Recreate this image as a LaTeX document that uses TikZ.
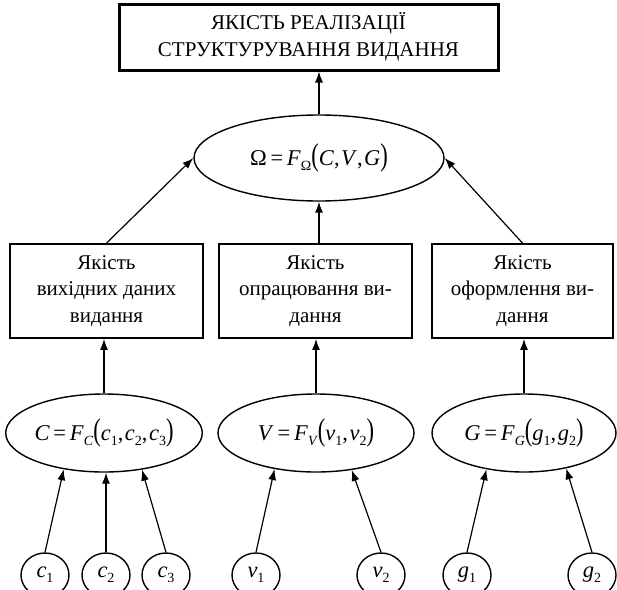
\documentclass[tikz,border=0pt]{standalone}
\usepackage{fontspec}
\setmainfont{Liberation Serif}
\usepackage{graphicx}
\usetikzlibrary{arrows.meta,shapes.geometric}
\newcommand\sbs[1]{\raisebox{-0.45ex}{\fontsize{14}{14}\selectfont #1}}
\newcommand\lpar{\scalebox{1}[1.4]{(}}
\newcommand\rpar{\scalebox{1}[1.4]{)}}
\newcommand\cm{,\kern1.5pt}
\begin{document}
\begin{tikzpicture}[x=1pt,y=-1pt, font=\fontsize{21}{26.5}\selectfont,
 box/.style={draw, line width=1.8pt, rectangle, inner sep=0pt, align=center},
 ell/.style={draw, line width=1.4pt, ellipse, inner sep=0pt, font=\fontsize{22.5}{26}\selectfont},
 var/.style={ell, minimum width=48pt, minimum height=44pt},
 arr/.style={line width=1.2pt, -{Latex[length=11pt,width=8pt]}}]
\useasboundingbox (0,0) rectangle (617,589);
\clip (0,0) rectangle (617,589);
\node[box, line width=3pt, minimum width=379pt, minimum height=66pt, font=\fontsize{21}{27}\selectfont] (top) at (308.5,37) {ЯКІСТЬ РЕАЛІЗАЦІЇ\\СТРУКТУРУВАННЯ ВИДАННЯ};
\node[ell, minimum width=250pt, minimum height=86pt] (om) at (319,158) {Ω\,=\,\textit{F}\sbs{Ω}\lpar\textit{C}\cm\textit{V}\cm\textit{G}\rpar};
\node[box, minimum width=193pt, minimum height=94pt] (bL) at (106.5,291) {Якість\\вихідних даних\\видання};
\node[box, minimum width=193pt, minimum height=94pt] (bM) at (315.5,291) {Якість\\опрацювання ви-\\дання};
\node[box, minimum width=181pt, minimum height=94pt] (bR) at (522.5,291) {Якість\\оформлення ви-\\дання};
\node[ell, minimum width=190pt, minimum height=78pt] (eL) at (104,433) {\textit{C}\,=\,\textit{F}\sbs{\textit{C}}\lpar\textit{c}\sbs{1}\cm\textit{c}\sbs{2}\cm\textit{c}\sbs{3}\rpar};
\node[ell, minimum width=196pt, minimum height=78pt] (eM) at (316,433) {\textit{V}\,=\,\textit{F}\sbs{\textit{V}}\lpar\textit{v}\sbs{1}\cm\textit{v}\sbs{2}\rpar};
\node[ell, minimum width=184pt, minimum height=78pt] (eR) at (524,433) {\textit{G}\,=\,\textit{F}\sbs{\textit{G}}\lpar\textit{g}\sbs{1}\cm\textit{g}\sbs{2}\rpar};
\node[var] (c1) at (45,575) {\textit{c}\sbs{1}};
\node[var] (c2) at (106,575) {\textit{c}\sbs{2}};
\node[var] (c3) at (166,575) {\textit{c}\sbs{3}};
\node[var] (v1) at (256,575) {\textit{v}\sbs{1}};
\node[var] (v2) at (381,575) {\textit{v}\sbs{2}};
\node[var] (g1) at (467,575) {\textit{g}\sbs{1}};
\node[var] (g2) at (592,575) {\textit{g}\sbs{2}};
\draw[arr] (om.north) -- (om.north |- top.south);
\draw[arr] (bL.north) -- (om.west);
\draw[arr] (om.south |- bM.north) -- (om.south);
\draw[arr] (bR.north) -- (om.east);
\draw[arr] (eL.north) -- (eL.north |- bL.south);
\draw[arr] (eM.north) -- (eM.north |- bM.south);
\draw[arr] (eR.north) -- (eR.north |- bR.south);
\draw[arr] (c1.north) -- (eL.222.4);
\draw[arr] (c2.north) -- (c2.north |- eL.south);
\draw[arr] (c3.north) -- (eL.316.8);
\draw[arr] (v1.north) -- (eM.221.7);
\draw[arr] (v2.north) -- (eM.314.8);
\draw[arr] (g1.north) -- (eR.224.9);
\draw[arr] (g2.north) -- (eR.320.4);
\end{tikzpicture}
\end{document}
